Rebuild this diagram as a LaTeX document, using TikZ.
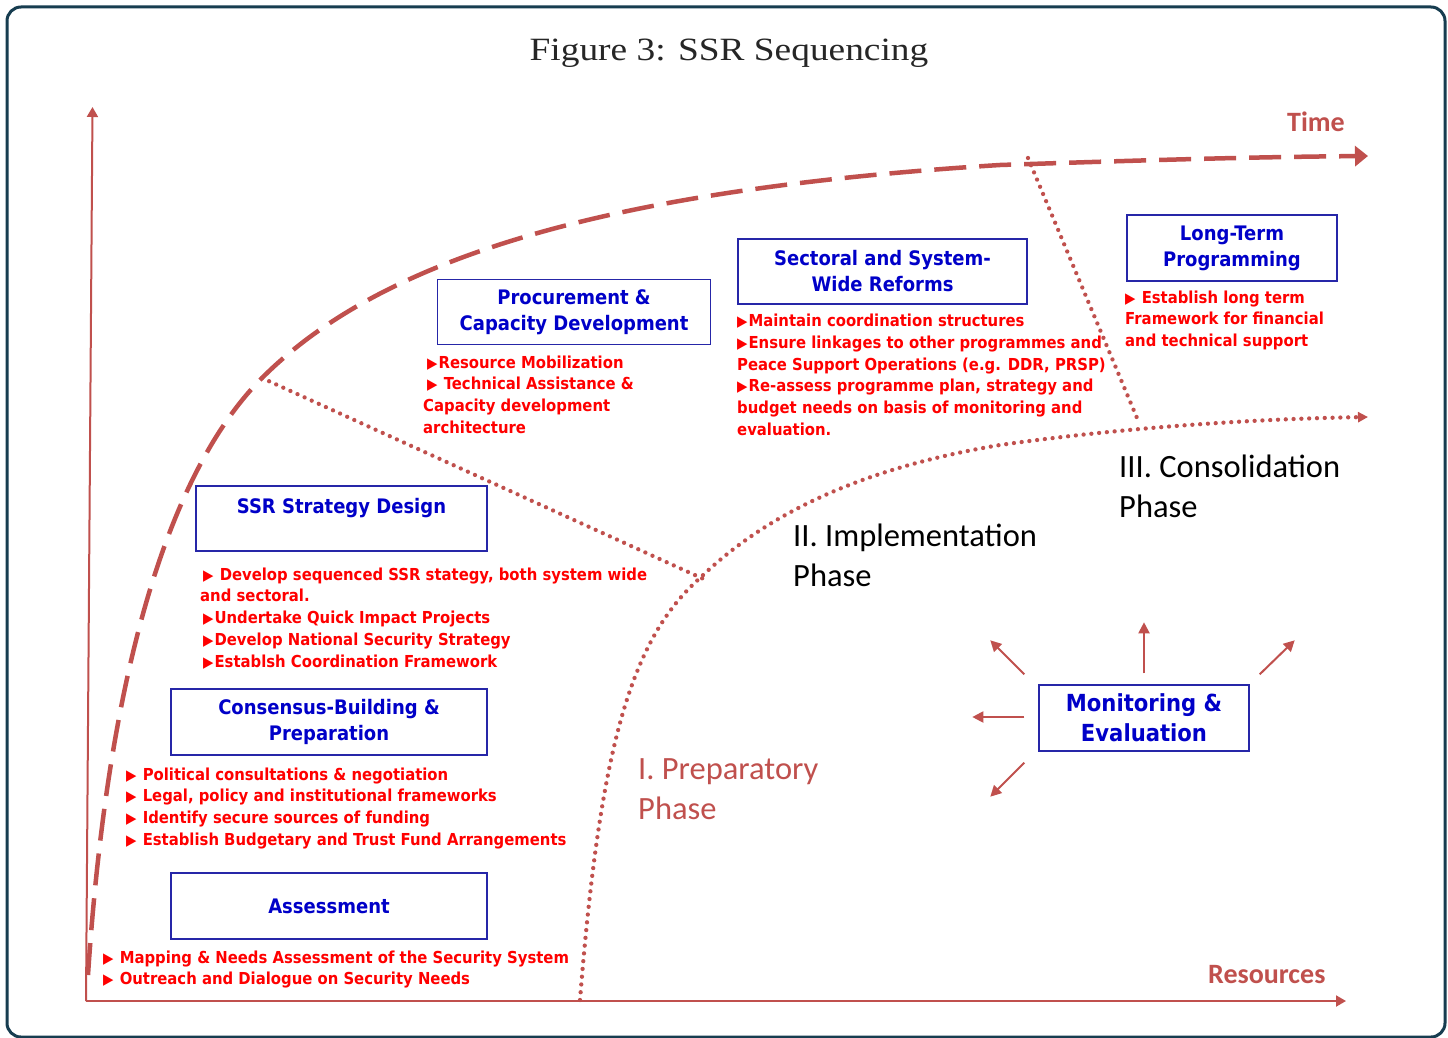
\documentclass[tikz,border=0pt]{standalone}
\usepackage{fontspec}
\setmainfont{Liberation Serif}[FakeStretch=1.15]
\newfontfamily\tahfont{DejaVu Sans}[FakeStretch=0.9]
\newfontfamily\calfont{Carlito}
\usetikzlibrary{arrows.meta}

\definecolor{framecol}{HTML}{173D50}
\definecolor{accent}{HTML}{C0504D}
\definecolor{boxtext}{HTML}{0000C8}
\definecolor{boxline}{HTML}{2626A8}
\definecolor{itemred}{HTML}{FF0000}

% small solid triangle used as a bullet
\newcommand\itemtri{{\fontsize{15}{15}\selectfont ▶}\kern1pt}

\begin{document}
\begin{tikzpicture}[x=1pt,y=-1pt,
  stagebox/.style={draw=boxline, line width=1.4pt, text=boxtext, align=center,
    inner sep=0pt, font=\tahfont\bfseries\fontsize{20}{26}\selectfont},
  items/.style={anchor=base west, align=left, inner sep=0pt, text=itemred,
    font=\tahfont\bfseries\fontsize{16.5}{21.8}\selectfont},
  phase/.style={anchor=base west, align=left, inner sep=0pt,
    font=\calfont\fontsize{32.5}{40}\selectfont},
  axislabel/.style={anchor=base west, inner sep=0pt, text=accent,
    font=\calfont\bfseries\fontsize{28}{30}\selectfont},
  axis/.style={draw=accent, line width=2pt, -{Triangle[length=10pt,width=11pt]}},
  timeline/.style={draw=accent, line width=4.5pt, dash pattern=on 32pt off 13pt,
    -{Triangle[length=13pt,width=20pt]}},
  dotline/.style={draw=accent, line width=4.3pt, line cap=round,
    dash pattern=on 0pt off 7.8pt},
  ray/.style={draw=accent, line width=2pt, -{Triangle[length=11pt,width=11pt]}}
]
% canvas and frame
\useasboundingbox (0,0) rectangle (1448,1038);
\fill[white] (0,0) rectangle (1448,1038);
\draw[framecol, line width=3pt, rounded corners=14pt] (7,7) rectangle (1445,1037);

% title
\node[anchor=base, inner sep=0pt, font=\fontsize{32.5}{36}\selectfont, text=black!85]
  (title) at (729,61) {Figure 3: SSR Sequencing};

% axes
\coordinate (origin) at (86,1001);
\coordinate (ytip) at (92.5,107);
\coordinate (xtip) at (1346,1001);
\draw[axis] (origin) -- (ytip);
\draw[axis] (origin) -- (xtip);
\node[axislabel] (timelbl) at (1287,131.5) {Time};
\node[axislabel] (reslbl) at (1208,983) {Resources};

% time curve
\coordinate (t0) at (88,975);
\coordinate (t1) at (262,378);
\coordinate (t2) at (1000,165);
\coordinate (t3) at (1368,156);
\draw[timeline] (t0) .. controls (110,640) and (180,460) .. (t1)
  .. controls (380,260) and (600,190) .. (t2)
  .. controls (1150,160) and (1250,157) .. (t3);

% phase boundaries
\coordinate (p0) at (580,1000);
\coordinate (p1) at (700,578);
\coordinate (p2) at (1000,445);
\coordinate (p3) at (1368,417);
\draw[dotline, -{Triangle[length=10pt,width=10pt]}]
  (p0) .. controls (600,750) and (630,640) .. (p1)
  .. controls (760,520) and (850,470) .. (p2)
  .. controls (1120,428) and (1250,419) .. (p3);
\coordinate (q1) at (708,581);
\draw[dotline] (t1) -- (q1);
\coordinate (r0) at (1028,158);
\coordinate (r1) at (1137,418);
\draw[dotline] (r0) -- (r1);

% phase names (anchored at the baseline of the last line)
\node[phase] (ph1) at (638,819) {\textcolor{accent}{I. Preparatory}\\\textcolor{accent}{Phase}};
\node[phase] (ph2) at (793,586) {II. Implementation\\Phase};
\node[phase] (ph3) at (1119,517) {III. Consolidation\\Phase};

% stages
\node[stagebox, minimum width=210pt, minimum height=66pt] (lt) at (1232,248) {Long-Term\\Programming};
\node[stagebox, minimum width=289pt, minimum height=65pt] (sw) at (882.5,271.5) {Sectoral and System-\\Wide Reforms};
\node[stagebox, minimum width=273pt, minimum height=65pt] (pc) at (574,312) {Procurement \&\\Capacity Development};
\node[stagebox, minimum width=291pt, minimum height=65pt] (ssr) at (341.5,518.5) {SSR Strategy Design\\\mbox{}};
\node[stagebox, minimum width=316pt, minimum height=66pt] (cb) at (329,722) {Consensus-Building \&\\Preparation};
\node[stagebox, minimum width=316pt, minimum height=66pt] (as) at (329,906) {Assessment};
\node[stagebox, minimum width=210pt, minimum height=66pt,
  font=\tahfont\bfseries\fontsize{23.5}{30}\selectfont] (me) at (1144,718) {Monitoring \&\\Evaluation};

% activities under each stage (anchored at the baseline of the last line)
\node[items] (ltitems) at (1125,346.6) {\itemtri\ Establish long term\\Framework for financial\\and technical support};
\node[items] (switems) at (737,435.5) {\itemtri Maintain coordination structures\\
  \itemtri Ensure linkages to other programmes and\\
  Peace Support Operations (e.g. DDR, PRSP)\\
  \itemtri Re-assess programme plan, strategy and\\
  budget needs on basis of monitoring and\\
  evaluation.};
\node[items] (pcitems) at (423,433.4) {\hspace*{4pt}\itemtri Resource Mobilization\\
  \hspace*{4pt}\itemtri\ Technical Assistance \&\\
  Capacity development\\
  architecture};
\node[items] (ssritems) at (200,667.2) {\hspace*{3pt}\itemtri\ Develop sequenced SSR stategy, both system wide\\
  and sectoral.\\
  \hspace*{3pt}\itemtri Undertake Quick Impact Projects\\
  \hspace*{3pt}\itemtri Develop National Security Strategy\\
  \hspace*{3pt}\itemtri Establsh Coordination Framework};
\node[items] (cbitems) at (126,845.4) {\itemtri\ Political consultations \& negotiation\\
  \itemtri\ Legal, policy and institutional frameworks\\
  \itemtri\ Identify secure sources of funding\\
  \itemtri\ Establish Budgetary and Trust Fund Arrangements};
\node[items] (asitems) at (103,984.8) {\itemtri\ Mapping \& Needs Assessment of the Security System\\
  \itemtri\ Outreach and Dialogue on Security Needs};

% feedback rays around monitoring and evaluation
\draw[ray] ([shift={(-14,-10)}]me.north west) -- ++(-34,-34);
\draw[ray] ([shift={(0,-11)}]me.north) -- ++(0,-51);
\draw[ray] ([shift={(10,-10)}]me.north east) -- ++(35,-34);
\draw[ray] ([shift={(-14,-1)}]me.west) -- ++(-52,0);
\draw[ray] ([shift={(-14,11)}]me.south west) -- ++(-34,34);
\end{tikzpicture}
\end{document}
